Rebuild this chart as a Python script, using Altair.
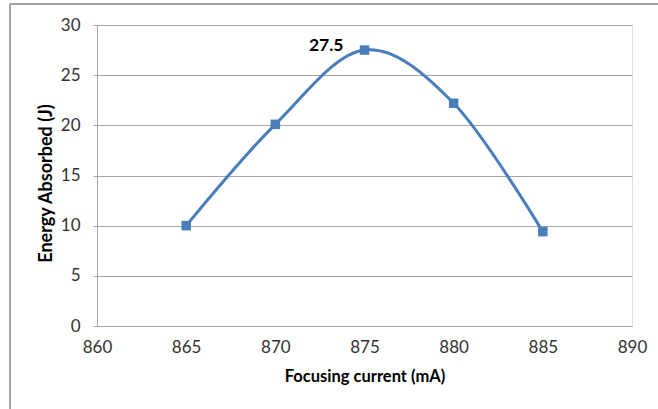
import altair as alt
import pandas as pd

current = [865, 870, 875, 880, 885]
energy = [10.0, 20.1, 27.5, 22.2, 9.4]
peak_label = ["", "", "27.5", "", ""]

df = pd.DataFrame({"current": current, "energy": energy, "label": peak_label})

FONT = "Lato"

x_enc = alt.X("current:Q", scale=alt.Scale(domain=[860, 890], nice=False, zero=False),
              axis=alt.Axis(values=[860, 865, 870, 875, 880, 885, 890], title="Focusing current (mA)",
                            grid=False, ticks=False, labelPadding=13, titlePadding=13,
                            domainColor="#a6a6a6", labelFont=FONT, labelFontSize=17,
                            labelColor="#333333", titleFont=FONT, titleFontSize=16.5,
                            titleFontWeight="bold", titleColor="#000000", labelFlush=False))
y_enc = alt.Y("energy:Q", scale=alt.Scale(domain=[0, 30], nice=False),
              axis=alt.Axis(values=[0, 5, 10, 15, 20, 25, 30], title="Energy Absorbed (J)",
                            grid=True, gridColor="#a6a6a6", ticks=True, tickSize=4, tickColor="#a6a6a6",
                            labelPadding=13, titlePadding=5, titleY=158, domainColor="#a6a6a6",
                            labelFont=FONT, labelFontSize=17, labelColor="#333333",
                            titleFont=FONT, titleFontSize=18, titleFontWeight="bold",
                            titleColor="#000000", labelFlush=False))

base = alt.Chart(df)

border = base.mark_rect(filled=False, stroke="#a0a0a0", strokeWidth=1).encode(
    x=alt.value(-87), y=alt.value(-21), x2=alt.value(600), y2=alt.value(450))

line = base.mark_line(interpolate="cardinal", color="#4a7ebb", strokeWidth=3).encode(x=x_enc, y=y_enc)
points = base.mark_square(size=90, color="#4a7ebb", opacity=1).encode(x="current:Q", y="energy:Q")
text = base.mark_text(align="right", baseline="middle", dx=-21, dy=-4, font=FONT, fontSize=17.5,
                      fontWeight="bold", color="#000000").encode(x="current:Q", y="energy:Q", text="label:N")

chart = alt.layer(border, line, points, text).properties(
    width=535, height=301,
    autosize=alt.AutoSizeParams(type="none"),
    padding={"left": 97, "top": 25, "right": 26, "bottom": 83},
).configure_view(stroke=None).configure(background="white")

chart.save("out.html", embed_options={"renderer": "svg", "actions": False})
